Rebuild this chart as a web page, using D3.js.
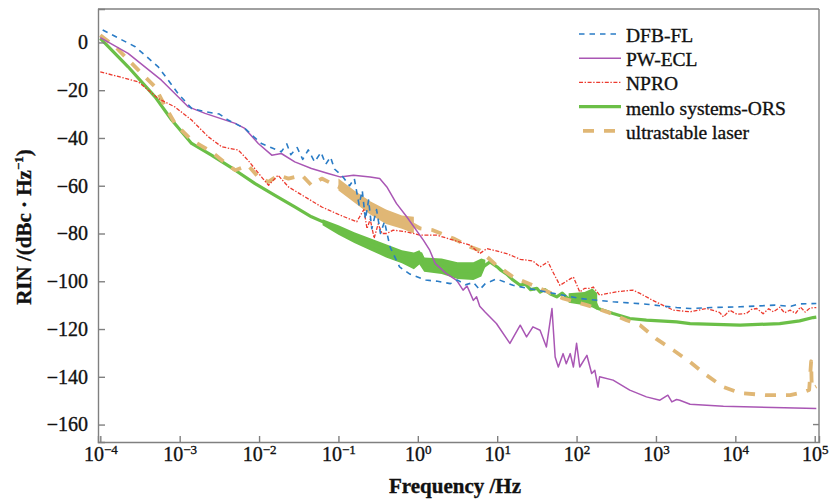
<!DOCTYPE html>
<html>
<head>
<meta charset="utf-8">
<script src="https://cdn.jsdelivr.net/npm/d3@7"></script>
<style>
  body { margin: 0; background: #fff; }
  text { font-family: "Liberation Serif", "DejaVu Serif", serif; fill: #111; stroke: #111; stroke-width: 0.35px; }
</style>
</head>
<body>
<div id="chart"></div>
<script>

// each point: [log10(frequency / Hz), RIN in dBc/Hz]
var dfbFL = [
  [-3.97, 5.2], [-3.56, -1.8], [-3.27, -10.2], [-3.02, -21.4], [-2.85, -27.6],
  [-2.68, -29], [-2.5, -30], [-2.39, -32.5], [-2.18, -36], [-2.05, -40],
  [-1.97, -42.3], [-1.85, -44], [-1.72, -45.8], [-1.65, -42.5], [-1.6, -47],
  [-1.52, -44], [-1.45, -49], [-1.38, -45], [-1.3, -50], [-1.22, -46],
  [-1.16, -51], [-1.1, -48], [-1.05, -53], [-0.95, -56], [-0.86, -60], [-0.8, -57],
  [-0.74, -68], [-0.7, -62], [-0.66, -74], [-0.62, -66], [-0.58, -78],
  [-0.52, -70], [-0.47, -80], [-0.42, -75], [-0.35, -85.6], [-0.23, -94],
  [-0.1, -97], [0.1, -99.5], [0.25, -100], [0.41, -101], [0.5, -99.5], [0.6, -101.5],
  [0.7, -100.5], [0.78, -103.5], [0.85, -101], [0.99, -99], [1.2, -101.7],
  [1.62, -104.5], [2.04, -107.2], [2.46, -108.6], [2.88, -109.6], [3.26, -111],
  [3.43, -111.4], [3.7, -111], [4.06, -110.7], [4.5, -110], [4.7, -110.5],
  [4.8, -109.5], [5.02, -109.3]
];

var pwECL = [
  [-4.0, 2], [-3.65, -4.6], [-3.23, -15.8], [-2.89, -27], [-2.68, -29.7],
  [-2.3, -33.9], [-2.18, -36], [-2.01, -42.3], [-1.84, -47.2], [-1.72, -46.5],
  [-1.55, -50], [-1.34, -52.8], [-1.13, -54.9], [-0.98, -56.3], [-0.81, -55.6],
  [-0.6, -56.3], [-0.48, -57], [-0.39, -60.5], [-0.27, -67.4], [-0.14, -73],
  [-0.02, -78.6], [0.07, -82.8], [0.15, -87], [0.22, -92.6], [0.36, -96.8],
  [0.49, -99.6], [0.57, -103.7], [0.62, -102], [0.7, -108], [0.74, -106.5],
  [0.78, -110.5], [0.85, -113], [0.99, -117.7], [1.16, -126], [1.29, -118.4],
  [1.37, -123.3], [1.45, -119.1], [1.54, -120.5], [1.62, -127.5], [1.69, -111.4],
  [1.73, -131.7], [1.77, -135.9], [1.83, -130.3], [1.87, -134.5], [1.92, -130.3],
  [1.96, -135.9], [2.0, -126], [2.04, -135.9], [2.13, -131], [2.19, -138.6],
  [2.23, -137.3], [2.27, -144.3], [2.29, -140], [2.46, -141.4], [2.67, -145.6],
  [2.88, -148.4], [3.05, -149.8], [3.15, -147.7], [3.2, -150.5], [3.26, -149.5],
  [3.3, -149.8], [3.43, -151.5], [3.85, -152.3], [4.48, -152.9], [5.02, -153.3]
];

var npro = [
  [-4.0, -12.3], [-3.52, -16.5], [-3.27, -23.5], [-3.06, -27], [-2.85, -32.5],
  [-2.64, -39.5], [-2.47, -43.7], [-2.26, -45.1], [-2.14, -49.3], [-1.97, -56.3],
  [-1.88, -59.8], [-1.76, -55.6], [-1.63, -60.5], [-1.42, -64.7], [-1.21, -68.9],
  [-0.98, -72.3], [-0.77, -75.1], [-0.68, -70], [-0.64, -78], [-0.6, -74],
  [-0.55, -82], [-0.5, -76], [-0.45, -80], [-0.39, -80], [-0.31, -78.6],
  [-0.14, -79.3], [0.03, -80.7], [0.24, -80.7], [0.45, -82.8], [0.66, -84.9],
  [0.78, -88.4], [0.87, -86.3], [1.12, -88.4], [1.29, -90.8], [1.45, -91.5],
  [1.54, -94], [1.64, -91.9], [1.7, -96], [1.79, -101.7], [1.92, -99],
  [1.96, -98.2], [2.04, -104.5], [2.1, -103], [2.17, -103], [2.21, -102.4],
  [2.29, -105.8], [2.5, -104.4], [2.71, -103.7], [2.8, -105.1], [2.96, -108],
  [3.13, -110.7], [3.22, -112.1], [3.43, -112.8], [3.64, -111.4], [3.8, -113],
  [3.85, -114.9], [3.93, -112.1], [4.02, -113.8], [4.14, -113.5], [4.2, -111.8],
  [4.27, -111.4], [4.35, -113.6], [4.42, -111.5], [4.48, -112.8], [4.56, -110.9],
  [4.62, -113.2], [4.69, -112.1], [4.76, -113.4], [4.82, -110.8], [4.88, -112.9],
  [4.94, -111.2], [5.02, -111]
];

var menloORS = [
  [-4.0, 1.7], [-3.65, -10.2], [-3.31, -22.8], [-3.1, -32.5], [-2.85, -42.3],
  [-2.6, -47.2], [-2.3, -53.5], [-2.05, -59.1], [-1.8, -64], [-1.55, -68.9],
  [-1.34, -73], [-1.1, -76.5], [-0.9, -80], [-0.7, -83], [-0.5, -86],
  [-0.3, -88.5], [-0.1, -91], [0.0, -91.5], [0.04, -88.5], [0.1, -93],
  [0.3, -94], [0.5, -95.5], [0.7, -96], [0.8, -94.5], [0.91, -91.9],
  [1.0, -94], [1.05, -95.5], [1.12, -97], [1.2, -99.5], [1.29, -101.7],
  [1.35, -101], [1.42, -103.5], [1.5, -103], [1.54, -104.5], [1.6, -103.5],
  [1.68, -105.5], [1.75, -106.5], [1.82, -105], [1.9, -107.5], [1.97, -106.5],
  [2.04, -108], [2.12, -106.5], [2.21, -107.2], [2.27, -111.4], [2.46, -113.5],
  [2.67, -115.6], [2.88, -116.3], [3.26, -117], [3.43, -117.7], [4.06, -118.4],
  [4.56, -117.7], [4.81, -116.6], [4.98, -115.2], [5.02, -115]
];

// noise envelope of the menlo trace: [log10 f, upper, lower]
var menloNoiseLow = [
  [-1.2, -74, -76.5], [-1.0, -76.5, -80.5], [-0.8, -79.5, -84], [-0.6, -82, -87],
  [-0.4, -84.5, -90], [-0.2, -87, -92.5], [-0.05, -88, -95], [0.02, -87, -93],
  [0.08, -90, -96], [0.3, -90.5, -97], [0.5, -92, -99], [0.7, -92, -99.5],
  [0.8, -90.5, -98], [0.85, -91, -94]
];
var menloNoiseHigh = [
  [1.9, -105, -109], [2.1, -104.5, -110], [2.2, -103, -111], [2.26, -105, -112]
];

var ultrastable = [
  [-4.0, 3], [-3.81, -1.8], [-3.52, -11.6], [-3.31, -18.6], [-3.18, -27],
  [-3.06, -33.9], [-2.85, -40.9], [-2.6, -45.8], [-2.39, -51.4], [-2.3, -53.5],
  [-2.14, -51.4], [-2.01, -56.3], [-1.88, -58.4], [-1.76, -55.6], [-1.63, -57],
  [-1.46, -55.6], [-1.34, -59.8], [-1.21, -57], [-1.04, -59.8], [-0.9, -62],
  [-0.7, -67.5], [-0.5, -71.5], [-0.3, -74.5], [-0.1, -75.5], [0.03, -77.9],
  [0.19, -78.6], [0.45, -82.1], [0.66, -85.6], [0.78, -87], [0.99, -93.3],
  [1.2, -98.2], [1.54, -103], [1.83, -107.2], [2.13, -110], [2.38, -112.8],
  [2.63, -116.3], [2.8, -118.4], [3.0, -124], [3.22, -128.9], [3.43, -133.8],
  [3.64, -139.4], [3.85, -144.3], [4.06, -146.8], [4.39, -147.7], [4.69, -147.7],
  [4.85, -146.5], [4.93, -145.5], [4.955, -133.5], [4.96, -141], [4.965, -145],
  [5.02, -144]
];

// noise envelope of the ultrastable trace: [log10 f, upper, lower]
var ultrastableNoise = [
  [-1.0, -57, -62], [-0.8, -62, -67], [-0.6, -66.5, -72], [-0.4, -70, -76],
  [-0.2, -72.5, -78], [-0.05, -73, -80]
];

var seriesNames = ["DFB-FL", "PW-ECL", "NPRO", "menlo systems-ORS", "ultrastable laser"];
var xTickExps = [-4, -3, -2, -1, 0, 1, 2, 3, 4, 5];
var yTickValues = [0, -20, -40, -60, -80, -100, -120, -140, -160];

var styles = [
  {color: "#2a7cc6", width: 1.6, dash: "5.5,5"},
  {color: "#a956b4", width: 1.5, dash: null},
  {color: "#ec3a2e", width: 1.3, dash: "4,1.6,1.4,1.6"},
  {color: "#6bbf47", width: 3.2, dash: null},
  {color: "#e0b775", width: 3.8, dash: "11,10"}
];

var W = 836, H = 500;
var margin = {top: 9, right: 17, bottom: 58, left: 98};
var width = W - margin.left - margin.right,
    height = H - margin.top - margin.bottom;

var svg = d3.select("#chart").append("svg")
  .attr("width", W)
  .attr("height", H);

var g = svg.append("g")
  .attr("transform", "translate(" + margin.left + "," + margin.top + ")");

var x = d3.scaleLog().domain([Math.pow(10, -4.029), Math.pow(10, 5.054)]).range([0, width]);
var y = d3.scaleLinear().domain([-167.3, 14]).range([height, 0]);

var line = d3.line()
  .x(function(d) { return x(Math.pow(10, d[0])); })
  .y(function(d) { return y(d[1]); });

var band = d3.area()
  .x(function(d) { return x(Math.pow(10, d[0])); })
  .y0(function(d) { return y(d[2]); })
  .y1(function(d) { return y(d[1]); });

g.append("clipPath").attr("id", "clip")
  .append("rect").attr("width", width).attr("height", height);

var plot = g.append("g").attr("clip-path", "url(#clip)");

// draw order: menlo + ultrastable underneath, the thin traces on top
var traces = [dfbFL, pwECL, npro, menloORS, ultrastable];
var order = [3, 4, 2, 1, 0];

order.forEach(function(i) {
  var s = styles[i];
  if (i == 3) {
    [menloNoiseLow, menloNoiseHigh].forEach(function(b) {
      plot.append("path").attr("d", band(b)).attr("fill", s.color);
    });
  }
  if (i == 4) {
    plot.append("path").attr("d", band(ultrastableNoise)).attr("fill", s.color);
  }
  plot.append("path")
    .attr("d", line(traces[i]))
    .attr("fill", "none")
    .attr("stroke", s.color)
    .attr("stroke-width", s.width)
    .attr("stroke-dasharray", s.dash)
    .attr("stroke-linejoin", "round");
});

// axes
var axisColor = "#808080";

var xAxis = g.append("g")
  .attr("transform", "translate(0," + height + ")")
  .call(d3.axisBottom(x)
    .tickValues(xTickExps.map(function(e) { return Math.pow(10, e); }))
    .tickSize(-6)
    .tickFormat(""));

xAxis.selectAll(".tick").each(function(d, i) {
  var t = d3.select(this).append("text")
    .attr("y", 19)
    .attr("text-anchor", "middle")
    .style("font-size", "20px");
  t.append("tspan").text("10");
  var e = xTickExps[i];
  t.append("tspan")
    .attr("dy", -7)
    .style("font-size", "13px")
    .text(e < 0 ? "\u2212" + (-e) : e);
});

var yAxis = g.append("g")
  .call(d3.axisLeft(y)
    .tickValues(yTickValues)
    .tickSize(-7)
    .tickPadding(10)
    .tickFormat(function(d) { return d < 0 ? "\u2212" + (-d) : d; }));

yAxis.selectAll("text")
  .style("font-size", "20px")
  .style("font-family", "'Liberation Serif', serif")
  .attr("fill", "#111");

g.selectAll(".domain, .tick line")
  .attr("stroke", axisColor)
  .attr("stroke-width", 1.4);

// top and right border
g.append("line").attr("x1", 0).attr("x2", width).attr("y1", 0).attr("y2", 0)
  .attr("stroke", axisColor).attr("stroke-width", 1.4);
g.append("line").attr("x1", width).attr("x2", width).attr("y1", 0).attr("y2", height)
  .attr("stroke", axisColor).attr("stroke-width", 1.4);
g.append("line").attr("x1", width - 6).attr("x2", width).attr("y1", y(-160)).attr("y2", y(-160))
  .attr("stroke", axisColor).attr("stroke-width", 1.4);

// axis titles
svg.append("text")
  .attr("x", 455)
  .attr("y", 493)
  .attr("text-anchor", "middle")
  .style("font-size", "21px")
  .style("font-weight", "bold")
  .text("Frequency /Hz");

var yt = svg.append("text")
  .attr("transform", "translate(31,227) rotate(-90)")
  .attr("text-anchor", "middle")
  .style("font-size", "21px")
  .style("font-weight", "bold");
yt.append("tspan").text("RIN /(dBc \u00b7 Hz");
yt.append("tspan").attr("dy", -8).style("font-size", "13px").text("\u22121");
yt.append("tspan").attr("dy", 8).text(")");

// legend
var legend = svg.append("g");
seriesNames.forEach(function(name, i) {
  var cy = 34 + i * 24.2;
  var s = styles[i];
  legend.append("line")
    .attr("x1", i == 4 ? 583 : 579).attr("x2", 621)
    .attr("y1", cy).attr("y2", cy)
    .attr("stroke", s.color)
    .attr("stroke-width", s.width)
    .attr("stroke-dasharray", s.dash);
  legend.append("text")
    .attr("x", 626)
    .attr("y", cy + 8)
    .style("font-size", "19.5px")
    .text(name);
});

</script>
</body>
</html>
